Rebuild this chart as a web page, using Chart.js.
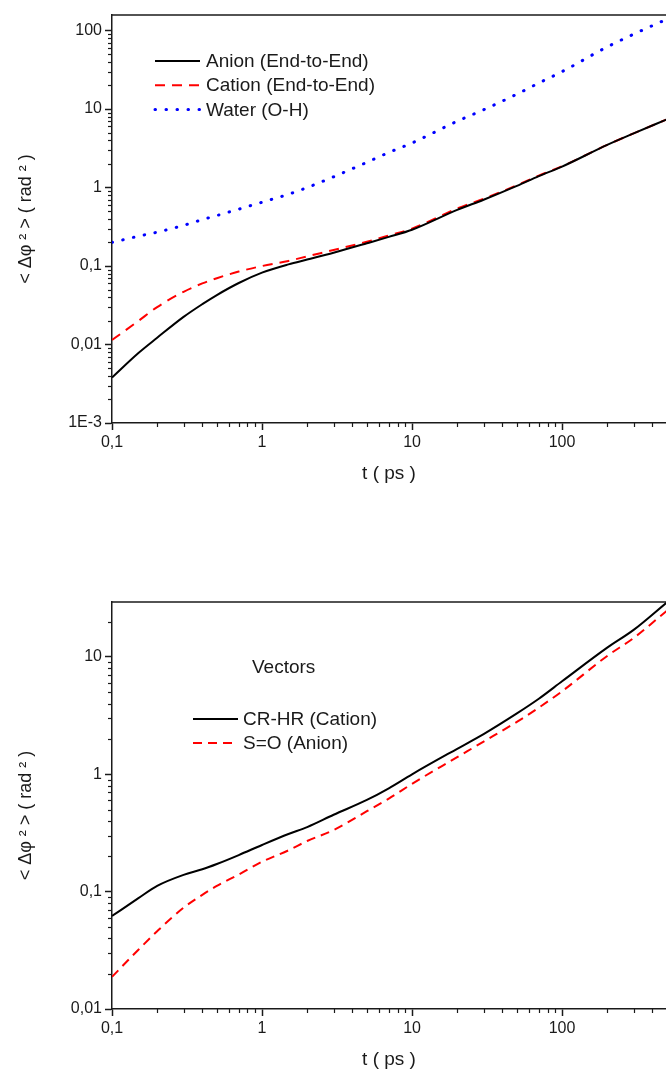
<!DOCTYPE html>
<html>
<head>
<meta charset="utf-8">
<script src="https://cdn.jsdelivr.net/npm/chart.js@4.4.1/dist/chart.umd.min.js"></script>
<style>
  html, body { margin: 0; padding: 0; background: #fff; }
  canvas { position: absolute; left: 0; }
  #top { top: 0; }
  #bottom { top: 510px; }
</style>
</head>
<body>
<canvas id="top" width="666" height="500" style="width:666px;height:500px"></canvas>
<canvas id="bottom" width="666" height="561" style="width:666px;height:561px"></canvas>
<script>
// time axis (ps)
const times = [0.1, 0.15, 0.2, 0.3, 0.4, 0.5, 0.7, 1, 1.5, 2, 3, 5, 7, 10, 20, 30, 50, 70, 100, 200, 300, 500];

// top panel: end-to-end / O-H vectors
const anionEnd  = [0.0038, 0.0078, 0.0122, 0.0225, 0.0327, 0.0427, 0.0608, 0.0823, 0.105, 0.121, 0.148, 0.195, 0.235, 0.29, 0.52, 0.7, 1.05, 1.4, 1.85, 3.5, 4.9, 7.4];
const cationEnd = [0.0114, 0.02, 0.03, 0.047, 0.06, 0.07, 0.085, 0.1, 0.116, 0.133, 0.16, 0.204, 0.245, 0.3, 0.54, 0.72, 1.07, 1.42, 1.87, 3.5, 4.9, 7.4];
const waterOH   = [0.2, 0.24, 0.27, 0.33, 0.39, 0.44, 0.53, 0.65, 0.82, 1.0, 1.37, 2.1, 2.8, 3.7, 7.0, 9.8, 15.5, 21.5, 30, 62, 90, 140];

// bottom panel: vectors
const crhrCation = [0.062, 0.088, 0.112, 0.139, 0.155, 0.172, 0.205, 0.25, 0.31, 0.355, 0.452, 0.605, 0.76, 1.0, 1.65, 2.2, 3.3, 4.4, 6.2, 12, 17, 29.2];
const soAnion    = [0.0188, 0.032, 0.046, 0.073, 0.094, 0.112, 0.14, 0.18, 0.225, 0.27, 0.335, 0.485, 0.62, 0.83, 1.4, 1.9, 2.8, 3.7, 5.1, 10.2, 14.5, 24.8];

// tick labels
const xTicks = [0.1, 1, 10, 100];
const xTickLabels = ['0,1', '1', '10', '100'];
const topYTicks = [0.001, 0.01, 0.1, 1, 10, 100];
const topYTickLabels = ['1E-3', '0,01', '0,1', '1', '10', '100'];
const botYTicks = [0.01, 0.1, 1, 10];
const botYTickLabels = ['0,01', '0,1', '1', '10'];

const FONT = '"Liberation Sans", Arial, sans-serif';
const INK = '#1a1a1a';
const Y_TITLE = '< Δφ ² > ( rad ² )';

// top border line + minor ticks on log axes
const frame = {
  id: 'frame',
  afterDraw(chart) {
    const { ctx, chartArea: a, scales } = chart;
    ctx.save();
    ctx.strokeStyle = INK;
    ctx.lineWidth = 1.5;
    ctx.beginPath();
    ctx.moveTo(a.left, a.top);
    ctx.lineTo(a.right, a.top);
    ctx.stroke();
    ctx.lineWidth = 1.2;
    ['x', 'y'].forEach(id => {
      const s = scales[id];
      const d0 = Math.floor(Math.log10(s.min));
      const d1 = Math.ceil(Math.log10(s.max));
      for (let d = d0; d <= d1; d++) {
        for (let k = 2; k <= 9; k++) {
          const v = k * Math.pow(10, d);
          if (v < s.min || v > s.max) continue;
          const p = Math.round(s.getPixelForValue(v)) + 0.5;
          ctx.beginPath();
          if (id === 'x') { ctx.moveTo(p, a.bottom); ctx.lineTo(p, a.bottom + 4); }
          else { ctx.moveTo(a.left, p); ctx.lineTo(a.left - 4, p); }
          ctx.stroke();
        }
      }
    });
    ctx.restore();
  }
};

// legend drawn inside the plot, using each dataset's own style
const boxLegend = {
  id: 'boxLegend',
  afterDraw(chart, args, o) {
    const ctx = chart.ctx;
    ctx.save();
    ctx.font = '19px ' + FONT;
    ctx.textBaseline = 'middle';
    ctx.fillStyle = INK;
    if (o.heading) ctx.fillText(o.heading, o.headingX, o.headingY);
    chart.data.datasets.forEach((ds, i) => {
      const y = o.y + i * o.dy;
      ctx.strokeStyle = ds.borderColor;
      ctx.lineWidth = ds.borderWidth;
      ctx.lineCap = ds.borderCapStyle || 'butt';
      ctx.setLineDash(ds.borderDash || []);
      ctx.beginPath();
      ctx.moveTo(o.x, y);
      ctx.lineTo(o.x + o.len, y);
      ctx.stroke();
      ctx.setLineDash([]);
      ctx.fillText(ds.label, o.x + o.len + o.gap, y + 1);
    });
    ctx.restore();
  }
};

function logAxis(min, max, ticks, labels, extra) {
  return Object.assign({
    type: 'logarithmic',
    min: min,
    max: max,
    afterBuildTicks: s => { s.ticks = ticks.map(v => ({ value: v })); },
    ticks: {
      color: INK,
      font: { family: FONT, size: 16 },
      autoSkip: false,
      maxRotation: 0,
      callback: v => labels[ticks.indexOf(v)] ?? ''
    },
    grid: { drawOnChartArea: false, drawTicks: true, tickLength: 7, tickColor: INK, tickWidth: 1.5 },
    border: { display: true, color: INK, width: 1.5 }
  }, extra);
}

function makeChart(id, cfg) {
  return new Chart(document.getElementById(id), {
    type: 'line',
    data: { labels: times, datasets: cfg.datasets },
    options: {
      responsive: false,
      animation: false,
      devicePixelRatio: 1,
      layout: { padding: { top: cfg.padTop, right: 0, left: 0, bottom: 0 } },
      elements: { point: { radius: 0 }, line: { cubicInterpolationMode: 'monotone' } },
      plugins: { legend: { display: false }, tooltip: { enabled: false }, boxLegend: cfg.legend },
      scales: {
        x: logAxis(0.1, 493, xTicks, xTickLabels, {
          afterFit: s => { s.height = cfg.xHeight; },
          title: { display: true, text: 't ( ps )', color: INK, font: { family: FONT, size: 19 }, padding: { top: 0, bottom: cfg.xTitlePad } }
        }),
        y: logAxis(cfg.yMin, cfg.yMax, cfg.yTicks, cfg.yLabels, {
          afterFit: s => { s.width = 112; },
          title: { display: true, text: cfg.yTitle, color: INK, font: { family: FONT, size: 18 }, padding: { top: 15, bottom: 0 } }
        })
      }
    },
    plugins: [frame, boxLegend]
  });
}

function pts(vals) { return times.map((t, i) => ({ x: t, y: vals[i] })); }

makeChart('top', {
  padTop: 15, xHeight: 77, xTitlePad: 15,
  yMin: 0.001, yMax: 158, yTicks: topYTicks, yLabels: topYTickLabels,
  yTitle: Y_TITLE,
  legend: { x: 155, y: 61, dy: 24.2, len: 45, gap: 6 },
  datasets: [
    { label: 'Anion (End-to-End)', data: pts(anionEnd), borderColor: '#000000', borderWidth: 2 },
    { label: 'Cation (End-to-End)', data: pts(cationEnd), borderColor: '#ff0000', borderWidth: 2, borderDash: [10, 7] },
    { label: 'Water (O-H)', data: pts(waterOH), borderColor: '#0000ff', borderWidth: 3, borderDash: [0.5, 10.5], borderCapStyle: 'round' }
  ]
});

makeChart('bottom', {
  padTop: 92, xHeight: 62, xTitlePad: 0,
  yMin: 0.01, yMax: 29.4, yTicks: botYTicks, yLabels: botYTickLabels,
  yTitle: Y_TITLE + '\u00a0\u00a0\u00a0\u00a0',
  legend: { x: 193, y: 209, dy: 24, len: 45, gap: 5, heading: 'Vectors', headingX: 252, headingY: 158 },
  datasets: [
    { label: 'CR-HR (Cation)', data: pts(crhrCation), borderColor: '#000000', borderWidth: 2 },
    { label: 'S=O (Anion)', data: pts(soAnion), borderColor: '#ff0000', borderWidth: 2, borderDash: [9, 6] }
  ]
});
</script>
</body>
</html>
